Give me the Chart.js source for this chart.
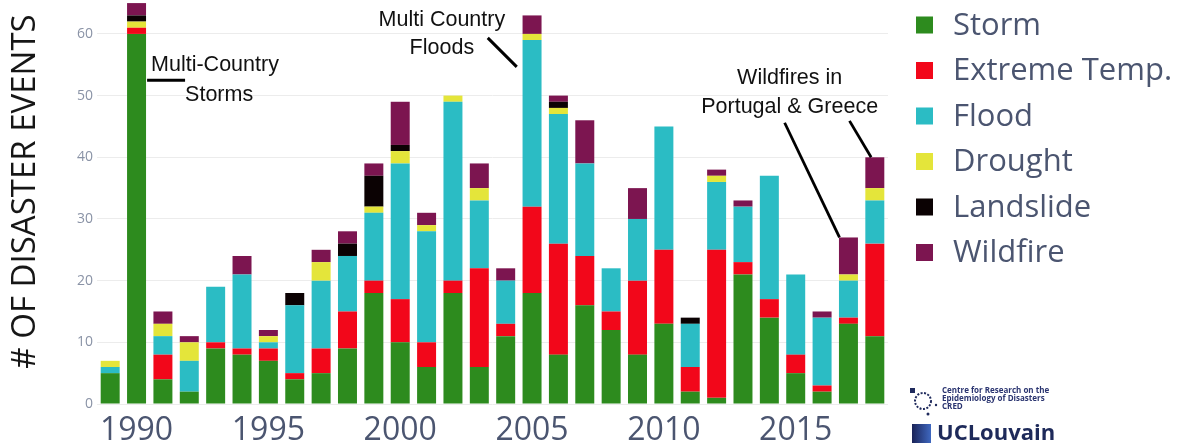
<!DOCTYPE html>
<html><head><meta charset="utf-8">
<script src="https://cdn.jsdelivr.net/npm/chart.js@4.4.1/dist/chart.umd.min.js"></script>
<style>html,body{margin:0;padding:0;background:#fff;overflow:hidden;} #wrap{width:1188px;height:445px;position:relative;}</style>
</head><body><div id="wrap"><canvas id="c" width="1188" height="445"></canvas></div>
<script>
// ---- data ----
const years = [1989,1990,1991,1992,1993,1994,1995,1996,1997,1998,1999,2000,2001,2002,2003,2004,2005,2006,2007,2008,2009,2010,2011,2012,2013,2014,2015,2016,2017,2018];
const storm       = [5,60,4,2,9,8,7,4,5,9, 18,10,6,18,6,11,18,8,16,12, 8,13,2,1,21,14,5,2,13,11];
const extremeTemp = [0,1,4,0,1,1,2,1,4,6, 2,7,4,2,16,2,14,18,8,3, 12,12,4,24,2,3,3,1,1,15];
const flood       = [1,0,3,5,9,12,1,11,11,9, 11,22,18,29,11,7,27,21,15,7, 10,20,7,11,9,20,13,11,6,7];
const drought     = [1,1,2,3,0,0,1,0,3,0, 1,2,1,1,2,0,1,1,0,0, 0,0,0,1,0,0,0,0,1,2];
const landslide   = [0,1,0,0,0,0,0,2,0,2, 5,1,0,0,0,0,0,1,0,0, 0,0,1,0,0,0,0,0,0,0];
const wildfire    = [0,2,2,1,0,3,1,0,2,2, 2,7,2,0,4,2,3,1,7,0, 5,0,0,1,1,0,0,1,6,5];
const seriesNames = ['Storm','Extreme Temp.','Flood','Drought','Landslide','Wildfire'];
const xTickYears = [1990,1995,2000,2005,2010,2015];
const yTicks = [0,10,20,30,40,50,60];
const yTitle = '# OF DISASTER EVENTS';
const noteStorms = ['Multi-Country','Storms'];
const noteFloods = ['Multi Country','Floods'];
const noteWildfires = ['Wildfires in','Portugal & Greece'];
const logoLines = ['Centre for Research on the','Epidemiology of Disasters','CRED'];
const logoName = 'UCLouvain';

// ---- styles ----
const colors = ['#2d8b1e','#f2071a','#2bbcc4','#e4e53a','#0b0203','#7c1550'];
const seriesData = [storm, extremeTemp, flood, drought, landslide, wildfire];
const totals = years.map((_, i) => seriesData.reduce((s, a) => s + a[i], 0));

const decorPlugin = {
  id: 'decor',
  afterDatasetsDraw(chart) {
    const ctx = chart.ctx, xs = chart.scales.x, ys = chart.scales.y;
    const x0 = xs.getPixelForValue(0), step = xs.getPixelForValue(1) - x0;
    const X = i => x0 + i * step;
    const Y = v => ys.getPixelForValue(v);
    ctx.save();
    ctx.fillStyle = '#111';
    ctx.strokeStyle = '#000';
    ctx.lineWidth = 3;
    ctx.font = '21.5px "Liberation Sans", Arial, sans-serif';
    ctx.textBaseline = 'middle';
    // storms
    ctx.textAlign = 'left';
    ctx.fillText(noteStorms[0], X(1.55), Y(55.0));
    ctx.fillText(noteStorms[1], X(2.84), Y(50.1));
    ctx.beginPath(); ctx.moveTo(X(1.40), Y(52.5)); ctx.lineTo(X(2.84), Y(52.5)); ctx.stroke();
    // floods
    ctx.textAlign = 'center';
    ctx.fillText(noteFloods[0], X(12.58), Y(62.3));
    ctx.fillText(noteFloods[1], X(12.58), Y(57.7));
    ctx.beginPath(); ctx.moveTo(X(14.32), Y(59.35)); ctx.lineTo(X(15.42), Y(54.65)); ctx.stroke();
    // wildfires
    ctx.fillText(noteWildfires[0], X(25.77), Y(52.9));
    ctx.fillText(noteWildfires[1], X(25.77), Y(48.2));
    ctx.lineWidth = 2.8;
    ctx.beginPath(); ctx.moveTo(X(25.58), Y(45.6)); ctx.lineTo(X(27.66), Y(totals[28])); ctx.stroke();
    ctx.beginPath(); ctx.moveTo(X(28.04), Y(45.9)); ctx.lineTo(X(28.86), Y(totals[29])); ctx.stroke();
    ctx.restore();
  },
  afterDraw(chart) {
    const ctx = chart.ctx;
    ctx.save();
    // y title
    ctx.translate(25.5, 191.5);
    ctx.rotate(-Math.PI / 2);
    ctx.fillStyle = '#161616';
    ctx.font = '33px "Open Sans", sans-serif';
    ctx.textAlign = 'center';
    ctx.textBaseline = 'middle';
    ctx.fillText(yTitle, 0, 0);
    ctx.restore();
    // legend
    ctx.save();
    ctx.font = '31px "Open Sans", sans-serif';
    ctx.textBaseline = 'middle';
    ctx.textAlign = 'left';
    chart.data.datasets.forEach((ds, i) => {
      const y = 25 + i * 45.5;
      ctx.fillStyle = ds.backgroundColor;
      ctx.fillRect(916, y - 8.5, 17, 17);
      ctx.fillStyle = '#4b5570';
      ctx.fillText(ds.label, 953, y + 1);
    });
    ctx.restore();
    // logos
    ctx.save();
    ctx.strokeStyle = '#1f2a5c';
    ctx.fillStyle = '#1f2a5c';
    ctx.lineWidth = 2;
    ctx.setLineDash([2, 1.5]);
    ctx.beginPath(); ctx.arc(923, 401, 8, 0, Math.PI * 2); ctx.stroke();
    ctx.setLineDash([]);
    ctx.fillRect(910, 388, 5, 5);
    ctx.beginPath(); ctx.arc(928, 414, 1.5, 0, Math.PI * 2); ctx.fill();
    ctx.beginPath(); ctx.arc(936, 405, 1.2, 0, Math.PI * 2); ctx.fill();
    ctx.font = 'bold 8px "Open Sans", sans-serif';
    ctx.fillStyle = '#2a3470';
    ctx.textBaseline = 'middle';
    logoLines.forEach((t, i) => ctx.fillText(t, 942, 391 + i * 8));
    const g = ctx.createLinearGradient(912, 0, 931, 0);
    g.addColorStop(0, '#1a2358'); g.addColorStop(1, '#3f68c0');
    ctx.fillStyle = g;
    ctx.fillRect(912, 424, 19, 19);
    ctx.fillStyle = '#1e2a5a';
    ctx.font = 'bold 22px "Open Sans", sans-serif';
    ctx.fillText(logoName, 937, 434);
    ctx.restore();
  }
};

function build() {
  new Chart(document.getElementById('c'), {
    type: 'bar',
    data: {
      labels: years.map(String),
      datasets: seriesData.map((d, i) => ({
        label: seriesNames[i], data: d, backgroundColor: colors[i],
        borderWidth: 0, categoryPercentage: 1, barPercentage: 0.72
      }))
    },
    options: {
      responsive: false, animation: false, devicePixelRatio: 1,
      layout: { padding: { left: 0, right: 300, top: 0, bottom: 0 } },
      plugins: { legend: { display: false }, tooltip: { enabled: false } },
      scales: {
        x: {
          stacked: true,
          grid: { display: false }, border: { display: false },
          ticks: {
            autoSkip: false, maxRotation: 0, minRotation: 0, padding: 0,
            color: '#4b5570', font: { family: 'Open Sans', size: 32 },
            callback: (v, i) => xTickYears.includes(years[i]) ? String(years[i]) : ''
          },
          afterFit: s => { s.height = 41; s.paddingLeft = 0; s.paddingRight = 0; }
        },
        y: {
          stacked: true, min: 0, max: 65.5,
          grid: { color: '#ececec', drawTicks: false, lineWidth: 1 }, border: { display: false },
          ticks: { color: '#8a93a6', font: { family: 'Open Sans', size: 14 }, padding: 4 },
          afterBuildTicks: s => { s.ticks = yTicks.map(v => ({ value: v })); },
          afterFit: s => { s.width = 97; s.paddingTop = 0; s.paddingBottom = 0; }
        }
      }
    },
    plugins: [decorPlugin]
  });
}
const fontLoads = ['31px "Open Sans"', 'bold 22px "Open Sans"', '21.5px "Liberation Sans"'].map(f => document.fonts.load(f));
Promise.all(fontLoads).then(build, build);
</script>
</body></html>
